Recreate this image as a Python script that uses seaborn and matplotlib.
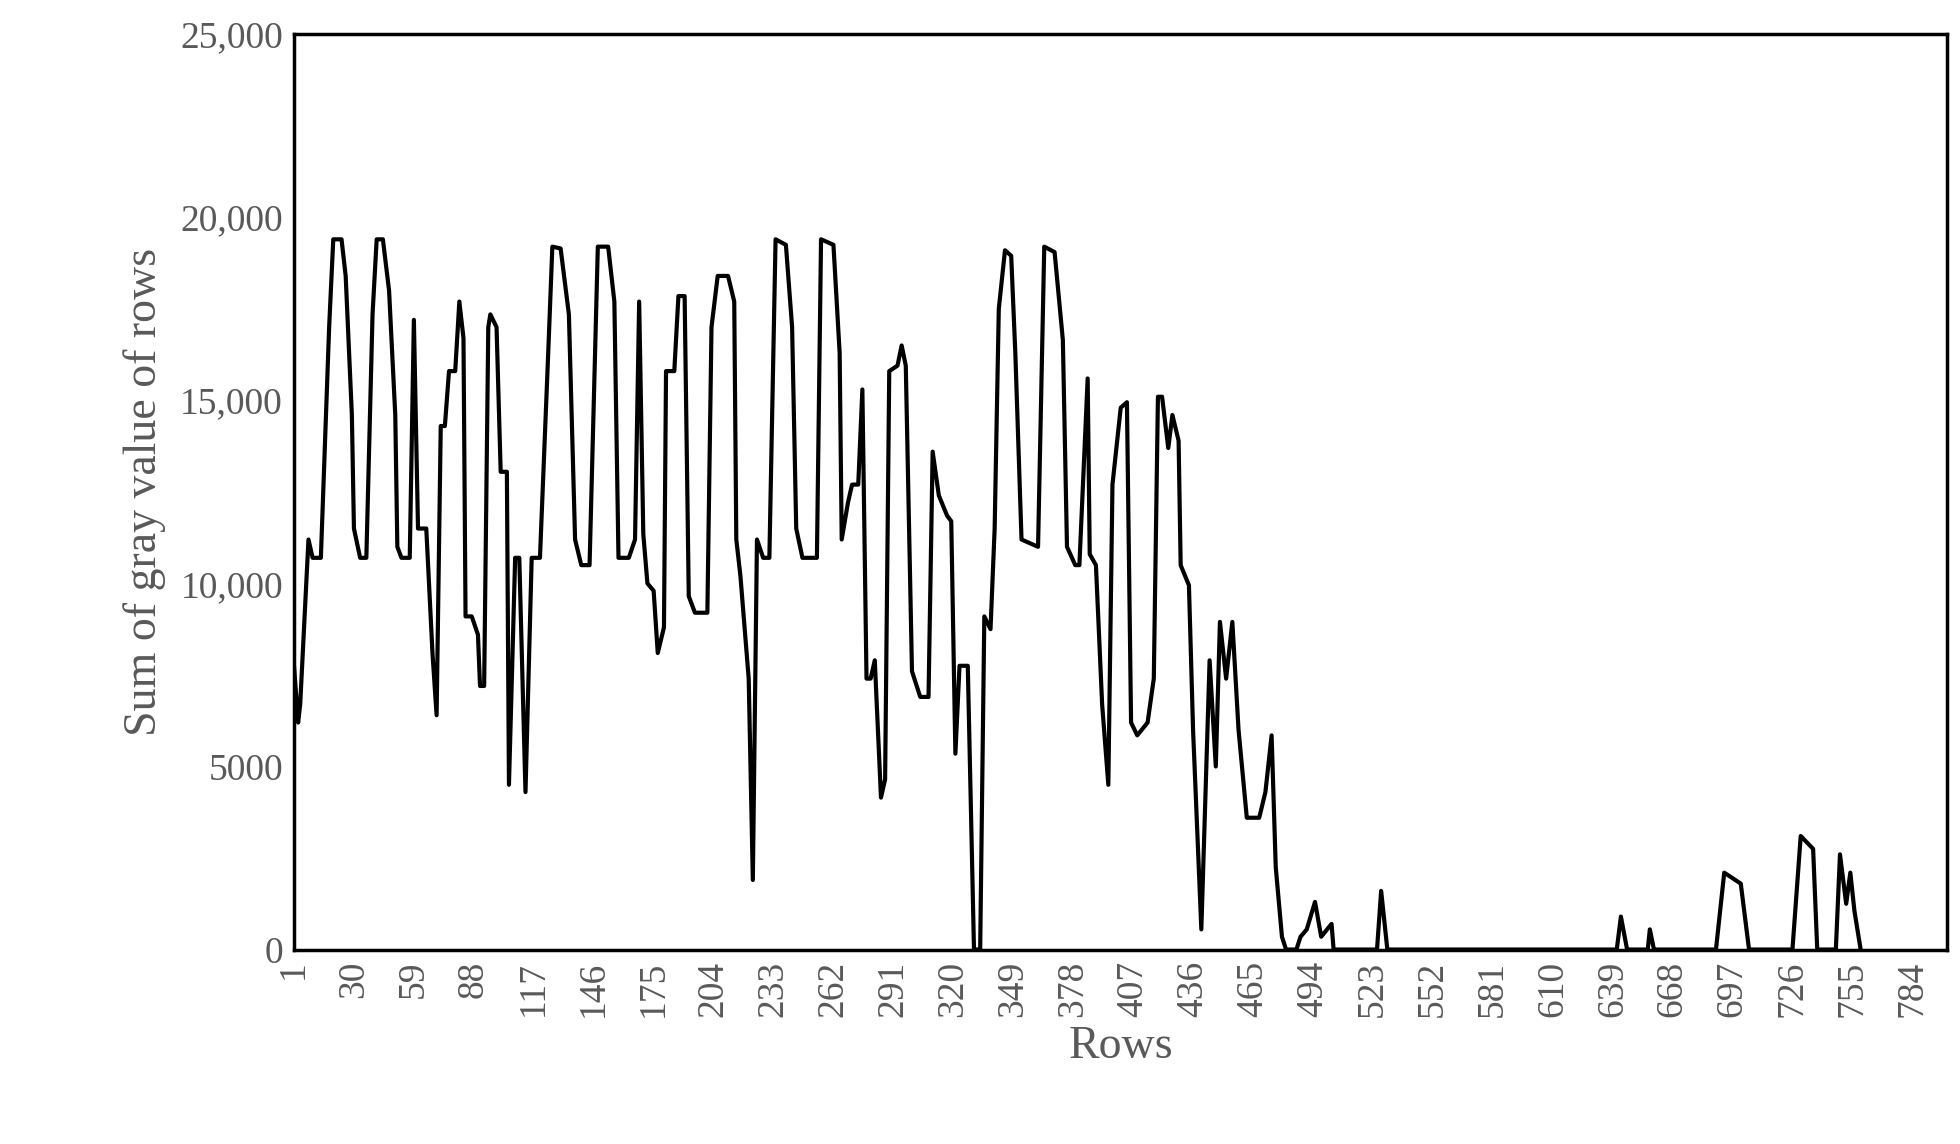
import matplotlib
matplotlib.use("Agg")
import matplotlib.pyplot as plt
import seaborn as sns
import pandas as pd

# traced vertices of the profile (row index, summed gray value)
rows = [1, 3, 4, 8, 10, 14, 18, 20, 24, 26, 29, 30, 33, 36, 39, 41, 44, 47, 50, 51,
        53, 57, 59, 61, 65, 68, 70, 72, 74, 76, 79, 81, 83, 84, 87, 90, 91, 93, 95, 96,
        99, 101, 104, 105, 108, 110, 113, 116, 120, 124, 126, 130, 134, 137, 140, 144, 148, 153, 156, 158,
        163, 166, 168, 170, 172, 175, 177, 180, 181, 185, 187, 190, 192, 195, 201, 203, 206, 211, 214, 215,
        217, 221, 223, 225, 228, 231, 234, 239, 242, 244, 247, 254, 256, 262, 265, 266, 269, 271, 274, 276,
        278, 280, 282, 285, 287, 289, 293, 295, 297, 300, 304, 308, 310, 313, 317, 319, 321, 323, 327, 330,
        333, 335, 338, 340, 342, 345, 348, 350, 353, 361, 364, 369, 373, 375, 379, 381, 383, 385, 386, 389,
        392, 395, 397, 401, 404, 406, 409, 414, 417, 419, 421, 424, 426, 429, 430, 434, 436, 440, 444, 447,
        449, 452, 455, 458, 462, 468, 471, 474, 476, 479, 481, 486, 488, 491, 495, 498, 503, 504, 525, 527,
        530, 641, 643, 646, 656, 657, 659, 689, 693, 697, 701, 705, 726, 730, 736, 738, 747, 749, 752, 754,
        756, 759]
gray_sum = [7750, 6200, 6700, 11200, 10700, 10700, 17000, 19400, 19400, 18400, 14600, 11500, 10700, 10700, 17350, 19400, 19400, 18000, 14600, 11000,
            10700, 10700, 17200, 11500, 11500, 8100, 6400, 14300, 14300, 15800, 15800, 17700, 16700, 9100, 9100, 8600, 7200, 7200, 17000, 17350,
            17000, 13050, 13050, 4500, 10700, 10700, 4300, 10700, 10700, 16300, 19200, 19150, 17350, 11200, 10500, 10500, 19200, 19200, 17700, 10700,
            10700, 11200, 17700, 11350, 10000, 9800, 8100, 8800, 15800, 15800, 17850, 17850, 9650, 9200, 9200, 17000, 18400, 18400, 17700, 11200,
            10200, 7400, 1900, 11200, 10700, 10700, 19400, 19250, 17000, 11500, 10700, 10700, 19400, 19250, 16300, 11200, 12200, 12700, 12700, 15300,
            7400, 7400, 7900, 4150, 4650, 15800, 15950, 16500, 15950, 7600, 6900, 6900, 13600, 12400, 11850, 11700, 5350, 7750, 7750, 0,
            0, 9100, 8750, 11500, 17500, 19100, 18950, 16300, 11200, 11000, 19200, 19050, 16650, 11000, 10500, 10500, 13050, 15600, 10800, 10500,
            6700, 4500, 12700, 14800, 14950, 6200, 5850, 6200, 7400, 15100, 15100, 13700, 14600, 13900, 10500, 9950, 6000, 550, 7900, 5000,
            8950, 7400, 8950, 6000, 3600, 3600, 4300, 5850, 2250, 350, 0, 0, 350, 550, 1300, 350, 700, 0, 0, 1600,
            0, 0, 900, 0, 0, 550, 0, 0, 2100, 1950, 1800, 0, 0, 3100, 2750, 0, 0, 2600, 1250, 2100,
            1050, 0]
tick_rows = list(range(1, 785, 29))
ytick_vals = [0, 5000, 10000, 15000, 20000, 25000]
ytick_labels = ["0", "5000", "10,000", "15,000", "20,000", "25,000"]

df = pd.DataFrame({"row": rows, "value": gray_sum})

sns.set_style("white")
plt.rcParams["font.family"] = ["Liberation Serif", "DejaVu Serif"]

fig = plt.figure(figsize=(19.6, 11.44), dpi=100)
ax = fig.add_axes([0.15, 0.17, 0.8436, 0.80])
sns.lineplot(data=df, x="row", y="value", color="black", linewidth=3, ax=ax)

ax.set_xlim(1, 801)
ax.set_ylim(0, 25000)
ax.set_xticks(tick_rows)
ax.set_xticklabels([str(t) for t in tick_rows], rotation=90)
ax.set_yticks(ytick_vals)
ax.set_yticklabels(ytick_labels)
ax.tick_params(axis="both", length=0, labelsize=27, labelcolor="#595959", pad=8)
for s in ax.spines.values():
    s.set_color("black")
    s.set_linewidth(2.5)
ax.set_xlabel("Rows", fontsize=33, color="#595959", labelpad=6)
ax.set_ylabel("Sum of gray value of rows", fontsize=33, color="#595959", labelpad=10)

fig.savefig("out.png", dpi=100)
